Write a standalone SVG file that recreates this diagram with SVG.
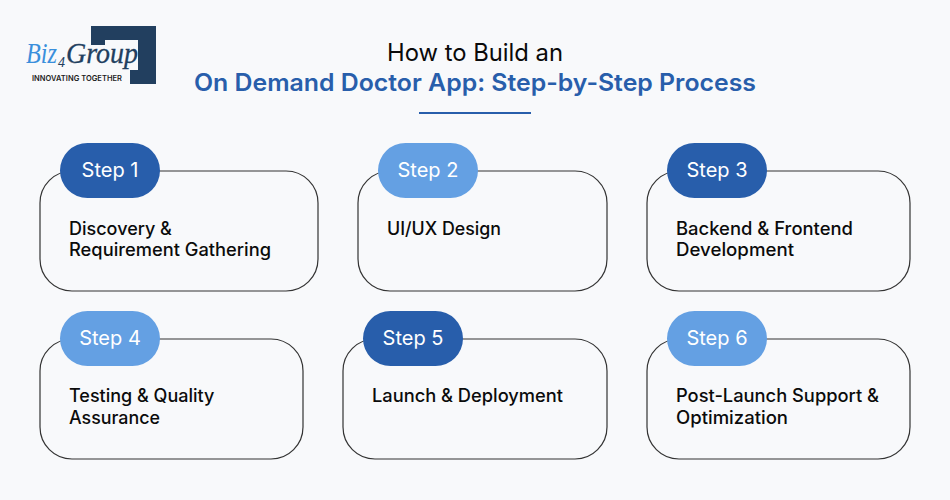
<svg xmlns="http://www.w3.org/2000/svg" width="950" height="500" viewBox="0 0 950 500">
<style>
text{font-family:Inter,"Liberation Sans",sans-serif}
.card{fill:none;stroke:#333;stroke-width:1.2}
.dark{fill:#285eab}
.light{fill:#64a0e3}
.pl{fill:#fff;font-size:20px;text-anchor:middle}
.lb{fill:#0b0b0b;font-size:18px;font-weight:500}
.lg{font-family:"Liberation Serif",serif;font-style:italic;font-size:30px}
</style>
<rect width="950" height="500" fill="#f8f9fb"/>
<g id="logo">
<path d="M91 26H156V84H130V70H138V40H105V45H91Z" fill="#223f5f"/>
<text class="lg" x="26" y="63" fill="#3a8fdc" textLength="31" lengthAdjust="spacingAndGlyphs">Biz</text>
<text class="lg" x="58" y="67" fill="#223f5f" style="font-size:14px">4</text>
<text class="lg" x="66" y="63" fill="#223f5f" stroke="#223f5f" stroke-width="0.3" textLength="72" lengthAdjust="spacingAndGlyphs">Group</text>
<text x="32" y="80.500" font-size="7.500" font-weight="600" fill="#1c1c1c" textLength="90" lengthAdjust="spacing">INNOVATING TOGETHER</text>
</g>
<g id="title">
<text x="475" y="61" font-size="24" fill="#0a0a0a" text-anchor="middle" textLength="176" lengthAdjust="spacingAndGlyphs">How to Build an</text>
<text x="475" y="91" font-size="24" font-weight="600" fill="#285eab" text-anchor="middle" textLength="562" lengthAdjust="spacingAndGlyphs">On Demand Doctor App: Step-by-Step Process</text>
<rect x="419" y="112" width="112" height="2" fill="#285eab"/>
</g>
<g id="step1">
<rect class="card" x="40" y="171" width="278" height="120" rx="32"/>
<rect class="dark" x="60" y="143" width="100" height="55" rx="27.500"/>
<text class="pl" x="110" y="177">Step 1</text>
<text class="lb" x="69" y="234.500">Discovery &amp;</text>
<text class="lb" x="69" y="256" textLength="202" lengthAdjust="spacingAndGlyphs">Requirement Gathering</text>
</g>
<g id="step2">
<rect class="card" x="358" y="171" width="249" height="120" rx="32"/>
<rect class="light" x="378" y="143" width="100" height="55" rx="27.500"/>
<text class="pl" x="428" y="177">Step 2</text>
<text class="lb" x="387" y="234.500" textLength="114" lengthAdjust="spacingAndGlyphs">UI/UX Design</text>
</g>
<g id="step3">
<rect class="card" x="647" y="171" width="263" height="120" rx="32"/>
<rect class="dark" x="667" y="143" width="100" height="55" rx="27.500"/>
<text class="pl" x="717" y="177">Step 3</text>
<text class="lb" x="676" y="234.500" textLength="177" lengthAdjust="spacingAndGlyphs">Backend &amp; Frontend</text>
<text class="lb" x="676" y="256" textLength="118" lengthAdjust="spacingAndGlyphs">Development</text>
</g>
<g id="step4">
<rect class="card" x="40" y="339" width="263" height="120" rx="32"/>
<rect class="light" x="60" y="311" width="100" height="55" rx="27.500"/>
<text class="pl" x="110" y="345">Step 4</text>
<text class="lb" x="69" y="402">Testing &amp; Quality</text>
<text class="lb" x="69" y="424" textLength="91" lengthAdjust="spacingAndGlyphs">Assurance</text>
</g>
<g id="step5">
<rect class="card" x="343" y="339" width="264" height="120" rx="32"/>
<rect class="dark" x="363" y="311" width="100" height="55" rx="27.500"/>
<text class="pl" x="413" y="345">Step 5</text>
<text class="lb" x="372" y="402" textLength="191" lengthAdjust="spacingAndGlyphs">Launch &amp; Deployment</text>
</g>
<g id="step6">
<rect class="card" x="647" y="339" width="263" height="120" rx="32"/>
<rect class="light" x="667" y="311" width="100" height="55" rx="27.500"/>
<text class="pl" x="717" y="345">Step 6</text>
<text class="lb" x="676" y="402" textLength="203" lengthAdjust="spacingAndGlyphs">Post-Launch Support &amp;</text>
<text class="lb" x="676" y="424" textLength="112" lengthAdjust="spacingAndGlyphs">Optimization</text>
</g>
</svg>
